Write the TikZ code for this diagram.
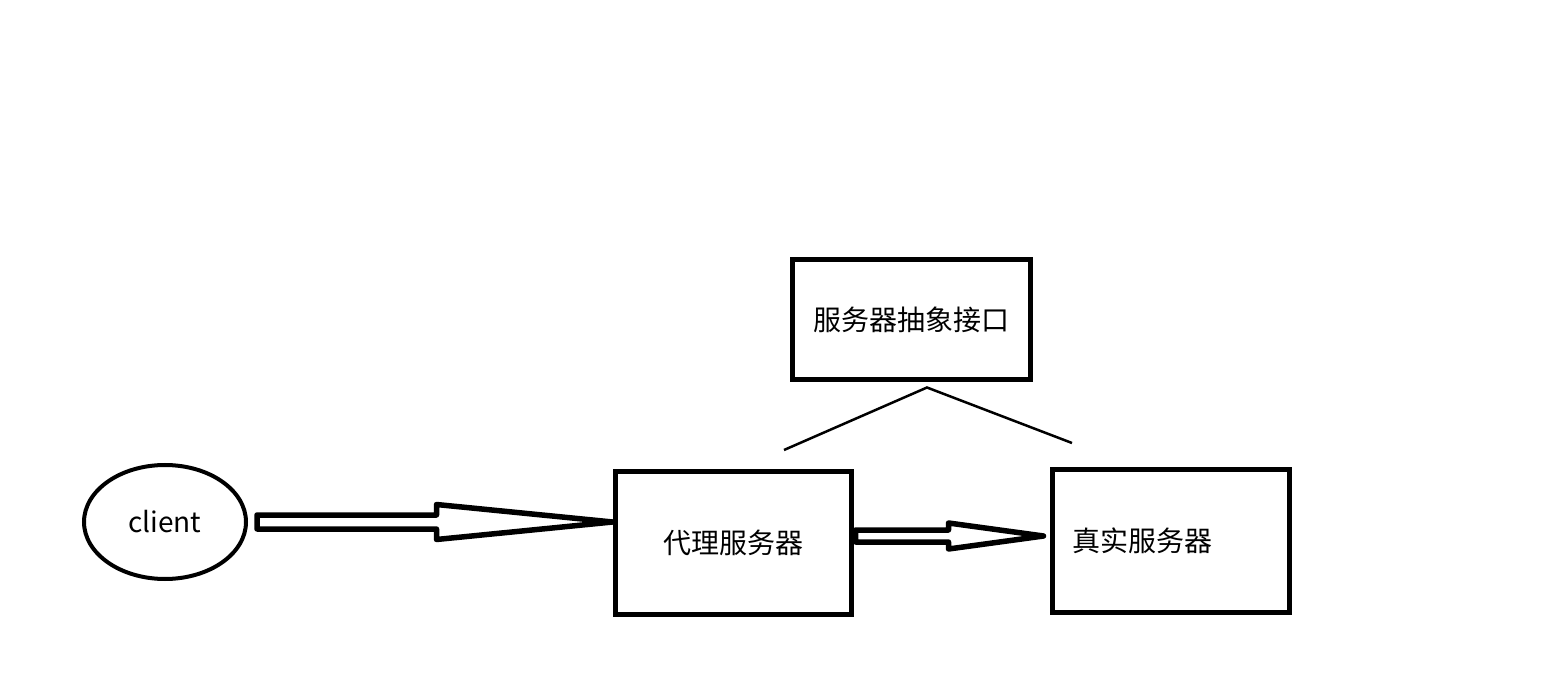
\documentclass[tikz,border=0pt]{standalone}
\usepackage{fontspec}
\newfontfamily\cjk{Noto Sans CJK SC}
\usetikzlibrary{shapes.geometric,calc}

% hollow block arrow: start, tip, shaft half height, head half height, head length
\newcommand{\blockarrow}[5]{%
  \draw [hollow] let \p1 = (#1), \p2 = (#2) in
    (\x1, \y1 + #3) -- (\x2 - #5, \y1 + #3) -- (\x2 - #5, \y1 + #4) -- (\x2, \y1) --
    (\x2 - #5, \y1 - #4) -- (\x2 - #5, \y1 - #3) -- (\x1, \y1 - #3) -- cycle;
}

\begin{document}
\begin{tikzpicture}
    [
      x=1pt, y=-1pt,
      every node/.style={font=\cjk\fontsize{28}{34}\selectfont},
      box/.style={draw, line width=5pt, minimum width=237pt, minimum height=142pt, inner sep=0pt},
      hollow/.style={draw, line width=5.5pt, line join=round},
      wire/.style={line width=2.5pt},
    ]
    % canvas
    \fill [white] (0,0) rectangle (1567,692);
    \useasboundingbox (0,0) rectangle (1567,692);

    % nodes
    \node [draw, ellipse, line width=4pt, minimum width=162pt, minimum height=114pt] (client) at (165,522) {client};
    \node [box, minimum width=238pt, minimum height=120pt] (iface) at (911,320) {服务器抽象接口};
    \node [box, minimum width=236pt] (proxy) at (733,543) {代理服务器};
    \node [box, text width=197pt, inner xsep=20pt, align=left] (real) at (1170.5,541) {真实服务器};

    % arrows
    \coordinate (c1) at ([xshift=9pt]client.east);
    \blockarrow{c1}{proxy.west}{7pt}{17.5pt}{176pt}
    \coordinate (p1) at ([xshift=2pt,yshift=7pt]proxy.east);
    \coordinate (r1) at ([xshift=-6pt]real.west);
    \blockarrow{p1}{r1}{6pt}{13pt}{95pt}

    % interface lines
    \coordinate (apex) at ([xshift=16pt,yshift=-5pt]iface.south);
    \coordinate (pl) at ([xshift=51pt,yshift=19.5pt]proxy.north);
    \coordinate (rl) at ([xshift=-98.5pt,yshift=24.5pt]real.north);
    \draw [wire] (pl) -- (apex) -- (rl);
  \end{tikzpicture}
\end{document}
